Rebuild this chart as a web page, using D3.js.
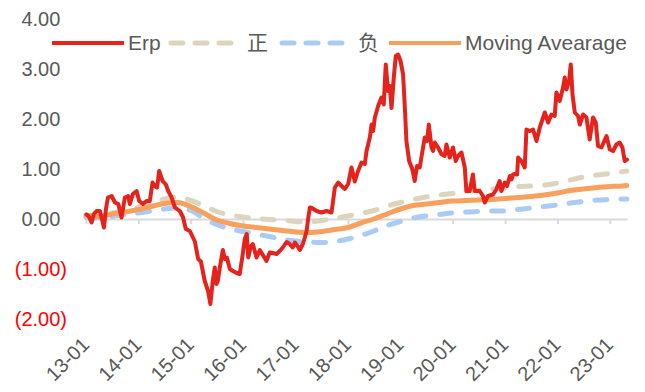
<!DOCTYPE html>
<html>
<head>
<meta charset="utf-8">
<script src="https://cdn.jsdelivr.net/npm/d3@7"></script>
<style>
  html, body { margin: 0; padding: 0; background: #ffffff; }
  svg { display: block; font-family: "Liberation Sans", Arial, "Noto Sans CJK SC", sans-serif; }
</style>
</head>
<body>
<svg id="chart" width="645" height="392"></svg>
<script>
// ---- series names ----
const seriesNames = ["Erp", "正", "负", "Moving Avearage"];

// ---- axis ticks ----
const yTicks = [-2, -1, 0, 1, 2, 3, 4];
const xTickDates = ["2013-01-01", "2014-01-01", "2015-01-01", "2016-01-01", "2017-01-01", "2018-01-01",
                    "2019-01-01", "2020-01-01", "2021-01-01", "2022-01-01", "2023-01-01"];
const xTickLabels = ["13-01", "14-01", "15-01", "16-01", "17-01", "18-01",
                     "19-01", "20-01", "21-01", "22-01", "23-01"];

// ---- Erp (equity risk premium) ----
const erpDates = [
  "2013-01-05","2013-01-21","2013-02-09","2013-02-25","2013-03-16","2013-04-08","2013-04-22","2013-05-06","2013-05-20","2013-06-03","2013-06-29","2013-07-22","2013-08-14","2013-09-06","2013-09-29","2013-10-22","2013-11-03","2013-11-24","2013-12-20",
  "2014-01-07","2014-02-02","2014-02-27","2014-03-22","2014-04-10","2014-04-26","2014-05-12","2014-05-26","2014-06-19","2014-07-12","2014-07-28","2014-08-21","2014-09-13","2014-10-17","2014-11-09","2014-11-28","2014-12-26",
  "2015-01-30","2015-02-22","2015-03-13","2015-04-09","2015-05-02","2015-05-18","2015-06-04","2015-06-18","2015-06-30","2015-07-09","2015-07-23","2015-08-13","2015-08-27","2015-09-10","2015-10-01","2015-10-22","2015-11-18","2015-12-09","2015-12-30",
  "2016-01-13","2016-01-27","2016-02-06","2016-02-24","2016-03-09","2016-04-04","2016-04-27","2016-05-18","2016-06-12","2016-07-05","2016-07-26","2016-08-21","2016-09-13","2016-10-04","2016-10-30","2016-11-21","2016-12-12","2016-12-27",
  "2017-01-17","2017-01-31","2017-02-21","2017-03-07","2017-03-19","2017-03-31","2017-04-11","2017-04-25","2017-05-28","2017-07-01","2017-08-05","2017-09-09","2017-10-02","2017-10-25","2017-11-18","2017-12-11",
  "2018-01-03","2018-01-26","2018-02-18","2018-03-13","2018-04-06","2018-04-29","2018-05-11","2018-06-03","2018-06-15","2018-06-26","2018-07-08","2018-07-31","2018-08-23","2018-09-08","2018-09-22","2018-10-08","2018-10-20","2018-11-01","2018-11-17","2018-12-01","2018-12-17",
  "2019-01-03","2019-01-21","2019-02-02","2019-02-13","2019-03-04","2019-03-27","2019-04-12","2019-04-28","2019-05-17","2019-06-05","2019-06-21","2019-07-07","2019-07-19","2019-08-07","2019-08-18","2019-08-30","2019-09-22","2019-10-15","2019-11-07","2019-11-19","2019-12-12",
  "2020-01-04","2020-01-23","2020-02-08","2020-03-03","2020-03-26","2020-04-06","2020-04-29","2020-05-22","2020-06-03","2020-07-08","2020-07-31","2020-08-12","2020-09-04","2020-10-09","2020-11-01","2020-11-24","2020-12-06","2020-12-30",
  "2021-01-15","2021-02-03","2021-02-15","2021-02-26","2021-03-10","2021-03-26","2021-04-02","2021-04-25","2021-05-18","2021-05-30","2021-06-22","2021-07-15","2021-08-08","2021-08-31","2021-09-23","2021-10-05","2021-10-28","2021-11-20","2021-12-13","2021-12-25",
  "2022-01-17","2022-02-09","2022-02-21","2022-03-05","2022-03-23","2022-04-04","2022-04-16","2022-05-02","2022-05-25","2022-06-06","2022-06-29","2022-07-22","2022-08-14","2022-09-06","2022-09-25","2022-10-11","2022-11-04","2022-12-09",
  "2023-01-01","2023-01-24","2023-02-16","2023-03-11","2023-03-30","2023-04-15","2023-05-01"
];
const erpValues = [
  0.09, 0.05, -0.07, 0.10, 0.16, 0.16, 0.00, -0.17, 0.20, 0.43, 0.46, 0.33, 0.30, 0.03, 0.43, 0.46, 0.30, 0.50, 0.56,
  0.36, 0.30, 0.36, 0.36, 0.73, 0.66, 0.63, 0.96, 0.76, 0.69, 0.56, 0.43, 0.23, 0.16, 0.03, -0.20, -0.24,
  -0.45, -0.80, -0.85, -1.24, -1.44, -1.70, -1.24, -0.97, -1.30, -1.24, -0.97, -0.62, -0.80, -0.77, -1.00, -1.04, -1.08, -1.10, -0.70,
  -0.40, -0.30, -0.77, -0.55, -0.50, -0.77, -0.62, -0.72, -0.84, -0.67, -0.68, -0.70, -0.64, -0.57, -0.46, -0.50, -0.57, -0.47,
  -0.55, -0.62, -0.50, -0.37, -0.24, 0.03, 0.23, 0.22, 0.16, 0.13, 0.16, 0.13, 0.63, 0.73, 0.66, 0.60,
  0.70, 1.03, 0.75, 0.96, 1.13, 1.10, 1.36, 1.63, 1.89, 1.76, 2.03, 2.26, 2.43, 2.29, 3.09, 2.56, 2.66, 2.22, 2.83, 3.26, 3.29,
  3.16, 2.89, 2.23, 1.56, 1.16, 0.99, 0.76, 1.06, 1.03, 1.36, 1.63, 1.56, 1.89, 1.43, 1.36, 1.53, 1.43, 1.30, 1.26, 1.49, 1.23,
  1.43, 1.16, 1.26, 1.33, 1.03, 0.56, 0.56, 0.89, 0.56, 0.56, 0.46, 0.33, 0.46, 0.49, 0.59, 0.76, 0.56, 0.73,
  0.66, 0.86, 0.79, 0.89, 0.90, 0.89, 1.23, 1.16, 1.03, 1.79, 1.76, 1.79, 1.56, 1.83, 2.03, 2.13, 1.93, 2.09, 2.06, 2.53,
  2.36, 2.63, 2.83, 2.59, 2.76, 3.09, 2.49, 2.13, 2.06, 1.89, 2.09, 2.03, 1.59, 2.03, 1.93, 1.46, 1.43, 1.66,
  1.39, 1.36, 1.49, 1.53, 1.43, 1.16, 1.19
];

// ---- smoothed bands, quarterly ----
const bandDates = [
  "2013-01-01","2013-04-01","2013-07-01","2013-10-01","2014-01-01","2014-04-01","2014-07-01","2014-10-01",
  "2015-01-01","2015-04-01","2015-07-01","2015-10-01","2016-01-01","2016-04-01","2016-07-01","2016-10-01",
  "2017-01-01","2017-04-01","2017-07-01","2017-10-01","2018-01-01","2018-04-01","2018-07-01","2018-10-01",
  "2019-01-01","2019-04-01","2019-07-01","2019-10-01","2020-01-01","2020-04-01","2020-07-01","2020-10-01",
  "2021-01-01","2021-04-01","2021-07-01","2021-10-01","2022-01-01","2022-04-01","2022-07-01","2022-10-01",
  "2023-01-01","2023-04-01","2023-04-30"
];
const upperValues = [
  0.06, 0.08, 0.12, 0.17, 0.24, 0.32, 0.40, 0.44, 0.37, 0.27, 0.15, 0.08, 0.04, 0.01, -0.01, -0.02,
  -0.05, -0.06, -0.03, 0.01, 0.06, 0.11, 0.17, 0.26, 0.33, 0.39, 0.44, 0.48, 0.51, 0.55, 0.58, 0.60,
  0.62, 0.65, 0.66, 0.68, 0.72, 0.78, 0.84, 0.88, 0.91, 0.95, 0.96
];
const lowerValues = [
  0.03, 0.02, 0.05, 0.09, 0.12, 0.16, 0.20, 0.22, 0.17, 0.02, -0.11, -0.20, -0.25, -0.30, -0.35, -0.40,
  -0.44, -0.46, -0.47, -0.45, -0.40, -0.33, -0.24, -0.13, -0.05, 0.02, 0.06, 0.09, 0.12, 0.14, 0.15, 0.16,
  0.16, 0.19, 0.22, 0.25, 0.28, 0.32, 0.35, 0.38, 0.39, 0.40, 0.40
];
const maValues = [
  0.08, 0.05, 0.10, 0.14, 0.19, 0.25, 0.31, 0.33, 0.25, 0.12, -0.02, -0.09, -0.14, -0.17, -0.20, -0.23,
  -0.26, -0.27, -0.25, -0.21, -0.17, -0.08, 0.00, 0.10, 0.20, 0.27, 0.30, 0.33, 0.36, 0.37, 0.38, 0.39,
  0.41, 0.43, 0.45, 0.48, 0.52, 0.57, 0.60, 0.63, 0.65, 0.66, 0.67
];

// ---- styles ----
const colors = { erp: "#e3231c", upper: "#ddd4bd", lower: "#a9cbf4", ma: "#f8a05e" };
const textGray = "#595959";
const axisGray = "#d9d9d9";

const parse = d3.utcParse("%Y-%m-%d");
const svg = d3.select("#chart");

svg.append("rect").attr("width", 645).attr("height", 392).attr("fill", "#ffffff");

const x = d3.scaleUtc()
  .domain([parse("2013-01-01"), parse("2023-05-01")])
  .range([86, 627]);
const y = d3.scaleLinear().domain([-2, 4]).range([319, 19]);

// y axis labels: accounting style, negatives in red parentheses
const fmt = d3.format(".2f");
const yAxis = d3.axisLeft(y)
  .tickValues(yTicks)
  .tickSize(0)
  .tickPadding(0)
  .tickFormat(v => v < 0 ? "(" + fmt(-v) + ")" : fmt(v));
const gy = svg.append("g").attr("transform", "translate(67,0)").call(yAxis);
gy.select(".domain").remove();
gy.selectAll("text")
  .attr("font-size", 20)
  .attr("font-family", null)
  .attr("fill", d => d < 0 ? "#ff0000" : textGray)
  .attr("dx", d => d < 0 ? 0 : -6.7);

// x axis line with ticks at the zero line
const xAxis = d3.axisBottom(x)
  .tickValues(xTickDates.map(parse))
  .tickSize(5)
  .tickSizeOuter(0)
  .tickFormat("");
const gx = svg.append("g").attr("transform", `translate(0,${y(0)})`).call(xAxis);
gx.select(".domain").attr("stroke", axisGray).attr("stroke-width", 2);
gx.selectAll(".tick line").attr("stroke", axisGray).attr("stroke-width", 2);

// rotated category labels along the bottom
const xLabelAxis = d3.axisBottom(x)
  .tickValues(xTickDates.map(parse))
  .tickSize(0)
  .tickFormat((d, i) => xTickLabels[i]);
const gxl = svg.append("g").attr("transform", "translate(0,346)").call(xLabelAxis);
gxl.select(".domain").remove();
gxl.selectAll("text")
  .attr("font-size", 20)
  .attr("font-family", null)
  .attr("fill", textGray)
  .attr("x", 0).attr("y", 0).attr("dy", 0)
  .attr("text-anchor", "end")
  .attr("transform", "translate(4,0) rotate(-45)");

// lines
const bandData = vals => bandDates.map((d, i) => ({ date: parse(d), value: vals[i] }));
const smoothLine = d3.line().x(d => x(d.date)).y(d => y(d.value)).curve(d3.curveMonotoneX);
const plot = svg.append("g");

plot.append("path").datum(bandData(upperValues))
  .attr("d", smoothLine).attr("fill", "none")
  .attr("stroke", colors.upper).attr("stroke-width", 5)
  .attr("stroke-linecap", "round").attr("stroke-dasharray", "12,14");

plot.append("path").datum(bandData(lowerValues))
  .attr("d", smoothLine).attr("fill", "none")
  .attr("stroke", colors.lower).attr("stroke-width", 5)
  .attr("stroke-linecap", "round").attr("stroke-dasharray", "12,14");

plot.append("path").datum(bandData(maValues))
  .attr("d", smoothLine).attr("fill", "none")
  .attr("stroke", colors.ma).attr("stroke-width", 5)
  .attr("stroke-linecap", "round");

const erpData = erpDates.map((d, i) => ({ date: parse(d), value: erpValues[i] }));
plot.append("path").datum(erpData)
  .attr("d", d3.line().x(d => x(d.date)).y(d => y(d.value)))
  .attr("fill", "none")
  .attr("stroke", colors.erp).attr("stroke-width", 4)
  .attr("stroke-linejoin", "round").attr("stroke-linecap", "round");

// legend
const legendItems = [
  { name: seriesNames[0], color: colors.erp, dash: null, x0: 52 },
  { name: seriesNames[1], color: colors.upper, dash: "12,12", x0: 171 },
  { name: seriesNames[2], color: colors.lower, dash: "12,12", x0: 282 },
  { name: seriesNames[3], color: colors.ma, dash: null, x0: 389 }
];
const legendY = 43;
const lg = svg.append("g");
legendItems.forEach(it => {
  const len = it.dash ? 62 : 72;
  lg.append("line")
    .attr("x1", it.x0).attr("x2", it.x0 + len)
    .attr("y1", legendY).attr("y2", legendY)
    .attr("stroke", it.color)
    .attr("stroke-width", it.dash ? 5 : 4)
    .attr("stroke-linecap", it.dash ? "round" : "butt")
    .attr("stroke-dasharray", it.dash);
  lg.append("text")
    .attr("x", it.x0 + 76)
    .attr("y", legendY)
    .attr("dy", "0.35em")
    .attr("font-size", 21)
    .attr("fill", textGray)
    .text(it.name);
});
</script>
</body>
</html>
